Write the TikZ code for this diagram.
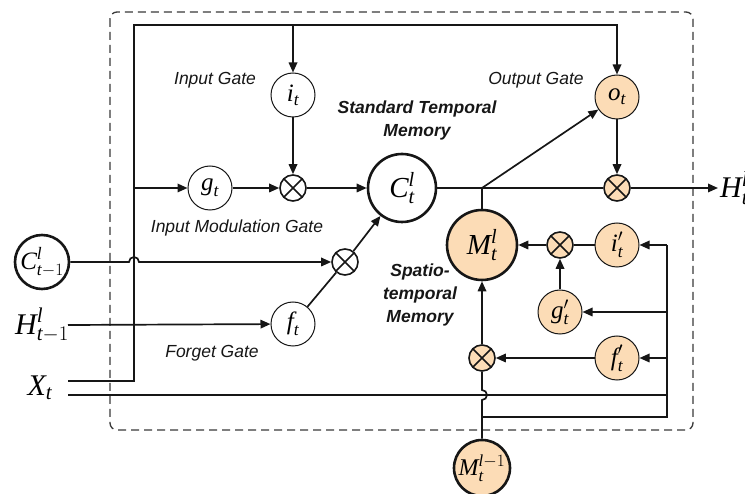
\documentclass[tikz,border=0pt]{standalone}
\usepackage{amsmath}
\usepackage{fontspec}
\newfontfamily\tmsi{Liberation Serif Italic}
\newfontfamily\lab{Liberation Sans}
\usetikzlibrary{arrows.meta}
\definecolor{peach}{RGB}{252,220,182}
\definecolor{ink}{RGB}{22,22,22}
\newcommand\mi[1]{\text{\tmsi #1}}
\begin{document}
\begin{tikzpicture}[x=1pt,y=-1pt,
  wire/.style={line width=1.7pt, draw=ink},
  arr/.style={-{Triangle[length=10pt,width=8.5pt]}},
  gate/.style={circle, draw=ink, line width=1pt, minimum size=44pt, inner sep=0pt, font=\fontsize{25}{28}\selectfont},
  pgate/.style={gate, fill=peach},
  mult/.style={circle, draw=ink, line width=1.6pt, minimum size=26pt, inner sep=0pt,
    path picture={\draw[line width=1.5pt, ink] (path picture bounding box.north west) -- (path picture bounding box.south east)
      (path picture bounding box.north east) -- (path picture bounding box.south west);}},
  pmult/.style={mult, fill=peach},
  mem/.style={circle, draw=ink, line width=2.6pt, minimum size=68pt, inner sep=0pt, font=\fontsize{29}{32}\selectfont},
  lbl/.style={font=\lab\itshape\fontsize{17.5}{21}\selectfont, text=ink},
  blbl/.style={font=\lab\bfseries\itshape\fontsize{17.5}{23}\selectfont, text=ink, align=center},
  io/.style={font=\fontsize{30}{33}\selectfont, inner sep=0pt},
  dbox/.style={draw=ink!85, line width=1.3pt, dash pattern=on 8pt off 5pt, rounded corners=7pt}
]
\useasboundingbox (0,0) rectangle (745,494);
\draw[dbox] (110,12) rectangle (693,430);

% nodes
\node[gate] (i) at (293,95) {$\mi{i}_{\mi{t}}$};
\node[gate] (g) at (210,188) {$\mi{g}_{\mi{t}}$};
\node[mult] (m1) at (293,188) {};
\node[mem] (C) at (402,188) {$\mi{C}_{\mi{t}}^{\mi{l}}$};
\node[pgate] (o) at (617,97) {$\mi{o}_{\mi{t}}$};
\node[pmult] (m2) at (617,188) {};
\node[mem, fill=peach, minimum size=70pt] (M) at (482,245) {$\mi{M}_{\mi{t}}^{\mi{l}}$};
\node[pmult] (m3) at (560,245) {};
\node[pgate] (ip) at (617,245) {$\mi{i}'_{\mi{t}}$};
\node[pgate] (gp) at (560,312) {$\mi{g}'_{\mi{t}}$};
\node[pgate] (fp) at (617,358) {$\mi{f}'_{\mi{t}}$};
\node[pmult] (m4) at (482,358) {};
\node[mem, fill=peach, minimum size=56pt, font=\fontsize{24}{27}\selectfont] (Mp) at (482,468) {$\mi{M}_{\mi{t}}^{\mi{l}-1}$};
\node[mem, minimum size=54pt, font=\fontsize{25}{28}\selectfont] (Cp) at (42,262) {$\mi{C}_{\mi{t}-1}^{\mi{l}}$};
\node[gate] (f) at (293,324) {$\mi{f}_{\mi{t}}$};
\node[mult] (m5) at (345,262) {};

\node[io] (Hin) at (42,325) {$\mi{H}_{\mi{t}-1}^{\mi{l}}$};
\node[io] (X) at (40,388) {$\mi{X}_{\mi{t}}$};
\node[io, anchor=west] (Hout) at (720,188) {$\mi{H}_{\mi{t}}^{\mi{l}}$};

% labels
\node[lbl] (tIG) at (215,80) {Input Gate};
\node[lbl] (tIMG) at (237,228) {Input Modulation Gate};
\node[lbl] (tOG) at (536,80) {Output Gate};
\node[lbl] (tFG) at (212,353) {Forget Gate};
\node[blbl] (tSTM) at (417,120) {Standard Temporal\\Memory};
\node[blbl] (tSpM) at (420,295) {Spatio-\\temporal\\Memory};

% coordinates
\coordinate (xa) at (68,381);
\coordinate (xb) at (68,395);
\coordinate (tl) at (134,25);
\coordinate (hs) at (68,325);
\coordinate (cj) at (482,188);
\coordinate (ho) at (718,188);
\coordinate (rtop) at (667,245);
\coordinate (rx) at (667,395);
\coordinate (mb) at (482,417);

% connectors
\draw[wire,arr] (xa) -| (tl) -| (o);
\draw[wire,arr] (i |- tl) -- (i);
\draw[wire,arr] (tl |- g) -- (g);
\draw[wire,arr] (i) -- (m1);
\draw[wire,arr] (g) -- (m1);
\draw[wire,arr] (m1) -- (C);
\draw[wire] (C) -- (m2);
\draw[wire,arr] (o) -- (m2);
\draw[wire,arr] (m2) -- (ho);
\draw[wire,arr] (cj) -- (o);
\draw[wire] (cj) -- (M);
\draw[wire,arr] (m3) -- (M);
\draw[wire] (ip) -- (m3);
\draw[wire,arr] (gp) -- (m3);
\draw[wire,arr] (m4) -- (M);
\draw[wire,arr] (fp) -- (m4);
\draw[wire] (Mp) -- (482,400) arc[start angle=-90,end angle=90,radius=5pt] -- (m4);
\draw[wire] (xb) -- (rx);
\draw[wire] (mb) -| (rtop);
\draw[wire,arr] (rtop) -- (ip);
\draw[wire,arr] (rtop |- gp) -- (gp);
\draw[wire,arr] (rtop |- fp) -- (fp);
\draw[wire,arr] (Cp) -- (129,262) arc[start angle=180,end angle=0,radius=5pt] -- (m5);
\draw[wire,arr] (hs) -- (f);
\draw[wire] (f) -- (m5);
\draw[wire,arr] (m5) -- (C);
\end{tikzpicture}
\end{document}
